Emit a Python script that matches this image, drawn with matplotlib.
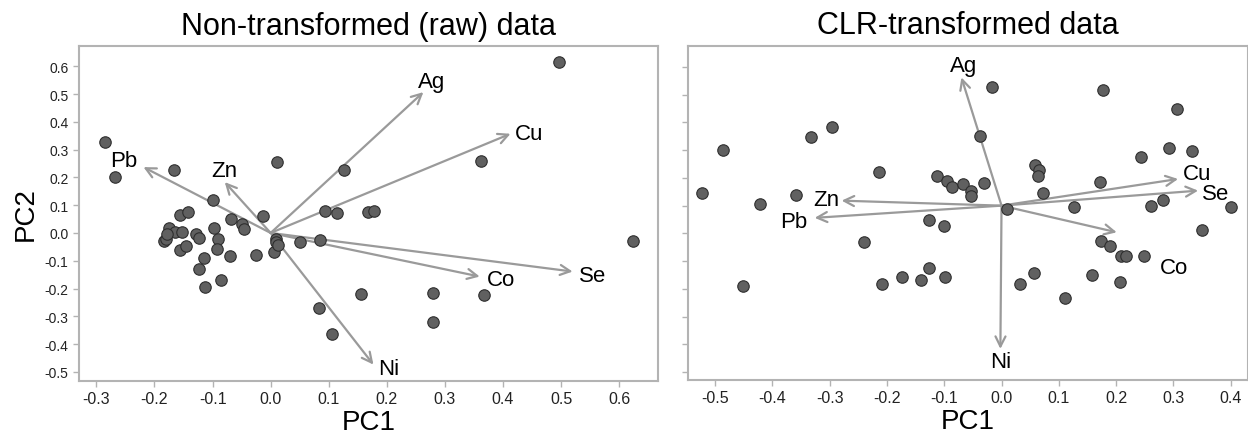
import matplotlib
matplotlib.use("Agg")
import matplotlib.pyplot as plt
from matplotlib.ticker import MultipleLocator

plt.rcParams['font.family'] = ['Liberation Sans', 'DejaVu Sans']

# --- raw data: scores ---
raw_pc1 = [-0.285, -0.268, -0.166, -0.099, 0.011, 0.127, -0.156, -0.142, -0.014, 0.094,
           0.114, -0.068, -0.049, -0.046, -0.175, -0.164, -0.153, -0.183, -0.181, -0.178,
           -0.156, -0.146, -0.129, -0.124, -0.098, -0.091, -0.093, -0.115, -0.123, -0.113,
           -0.086, -0.070, -0.025, 0.006, 0.009, 0.009, 0.012, 0.050, 0.085, 0.083,
           0.105, 0.156, 0.496, 0.363, 0.167, 0.178, 0.624, 0.280, 0.368, 0.280]
raw_pc2 = [0.329, 0.203, 0.227, 0.118, 0.255, 0.228, 0.066, 0.077, 0.060, 0.079,
           0.071, 0.050, 0.032, 0.014, 0.017, 0.003, 0.003, -0.030, -0.022, -0.005,
           -0.061, -0.047, -0.005, -0.019, 0.017, -0.022, -0.058, -0.090, -0.130, -0.193,
           -0.168, -0.082, -0.079, -0.070, -0.022, -0.032, -0.042, -0.034, -0.024, -0.269,
           -0.363, -0.220, 0.616, 0.259, 0.075, 0.080, -0.028, -0.215, -0.223, -0.322]

# --- clr data: scores ---
clr_pc1 = [-0.016, -0.038, -0.295, -0.333, -0.486, -0.214, -0.113, -0.095, -0.086, -0.068,
           -0.054, -0.053, -0.030, -0.522, -0.358, -0.422, -0.127, -0.100, -0.240, -0.127,
           -0.173, -0.140, -0.099, -0.208, -0.451, 0.177, 0.307, 0.292, 0.333, 0.243,
           0.058, 0.066, 0.064, 0.172, 0.073, 0.010, 0.126, 0.260, 0.282, 0.400,
           0.349, 0.173, 0.189, 0.209, 0.218, 0.249, 0.056, 0.033, 0.158, 0.206, 0.110]
clr_pc2 = [0.429, 0.252, 0.284, 0.248, 0.201, 0.122, 0.107, 0.090, 0.068, 0.077,
           0.054, 0.036, 0.082, 0.045, 0.040, 0.007, -0.053, -0.072, -0.131, -0.223,
           -0.258, -0.269, -0.256, -0.284, -0.288, 0.417, 0.348, 0.207, 0.198, 0.175,
           0.147, 0.129, 0.108, 0.084, 0.047, -0.012, -0.006, 0.000, 0.022, -0.006,
           -0.088, -0.126, -0.146, -0.182, -0.182, -0.181, -0.242, -0.281, -0.251, -0.276, -0.332]

# --- loadings ---
elements = ['Pb', 'Zn', 'Ag', 'Cu', 'Co', 'Se', 'Ni']
raw_load1 = [-0.219, -0.079, 0.263, 0.413, 0.360, 0.520, 0.177]
raw_load2 = [0.237, 0.183, 0.507, 0.357, -0.157, -0.139, -0.474]
clr_load1 = [-0.326, -0.279, -0.070, 0.308, 0.201, 0.343, -0.002]
clr_load2 = [-0.044, 0.018, 0.462, 0.096, -0.096, 0.054, -0.516]

# label offsets (pixels) from arrow tips
raw_offsets = {'Pb': (-20, 7), 'Zn': (0, 12), 'Ag': (8, 11), 'Cu': (19, 0),
               'Co': (21, -3), 'Se': (20, -4), 'Ni': (15, -4)}
clr_offsets = {'Pb': (-21, -4), 'Zn': (-15, 1), 'Ag': (2, 12), 'Cu': (19, 5),
               'Co': (57, -35), 'Se': (17, -3), 'Ni': (0, -13)}

SPINE = '#b3b3b3'
ARROW = '#9a9a9a'


def biplot(ax, xs, ys, lx, ly, offsets, title):
    for name, x, y in zip(elements, lx, ly):
        ax.annotate('', xy=(x, y), xytext=(0, 0),
                    arrowprops=dict(arrowstyle='->', color=ARROW, lw=1.6,
                                    mutation_scale=18, shrinkA=0, shrinkB=0),
                    zorder=2)
        ax.annotate(name, xy=(x, y), xytext=offsets[name], textcoords='offset pixels',
                    ha='center', va='center', fontsize=16, color='black', zorder=4)
    ax.scatter(xs, ys, s=68, color='#606060', edgecolor='#2e2e2e', linewidth=0.8, zorder=3)
    ax.set_title(title, fontsize=22, pad=9)
    ax.set_xlabel('PC1', fontsize=20, labelpad=2)
    ax.xaxis.set_major_locator(MultipleLocator(0.1))
    ax.yaxis.set_major_locator(MultipleLocator(0.1))
    ax.xaxis.set_major_formatter(lambda v, p: f'{v:.1f}'.replace('-0.0', '0.0'))
    ax.yaxis.set_major_formatter(lambda v, p: f'{v:.1f}'.replace('-0.0', '0.0'))
    for s in ax.spines.values():
        s.set_color(SPINE)
        s.set_linewidth(1.5)
    ax.tick_params(colors=SPINE, labelcolor='#222222', length=4, width=1)
    ax.tick_params(axis='x', labelsize=11.5)
    ax.tick_params(axis='y', labelsize=10)


fig = plt.figure(figsize=(12.48, 4.35), dpi=100)
ax1 = fig.add_axes([79 / 1248, 1 - 382 / 435, 579 / 1248, 335 / 435])
ax2 = fig.add_axes([688 / 1248, 1 - 381 / 435, 560 / 1248, 334 / 435])

biplot(ax1, raw_pc1, raw_pc2, raw_load1, raw_load2, raw_offsets, 'Non-transformed (raw) data')
ax1.set_xlim(-0.33, 0.667)
ax1.set_ylim(-0.533, 0.673)
ax1.set_ylabel('PC2', fontsize=20, labelpad=4)

biplot(ax2, clr_pc1, clr_pc2, clr_load1, clr_load2, clr_offsets, 'CLR-transformed data')
ax2.set_xlim(-0.547, 0.43)
ax2.set_ylim(-0.628, 0.575)
ax2.tick_params(axis='y', labelleft=False)

fig.savefig('out.png', dpi=100)
